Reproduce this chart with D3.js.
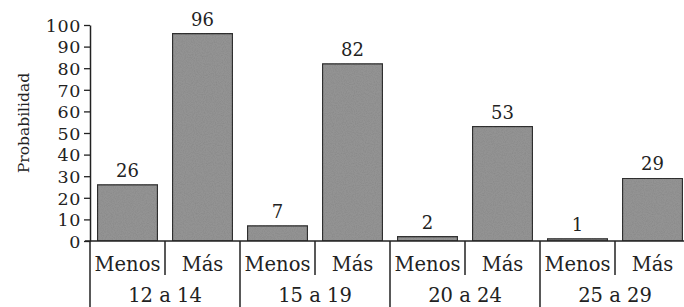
<!DOCTYPE html>
<html>
<head>
<meta charset="utf-8">
<script src="https://cdn.jsdelivr.net/npm/d3@7"></script>
<style>
  body { margin: 0; background: #fff; }
  svg text { font-family: "DejaVu Serif", serif; fill: #222; }
</style>
</head>
<body>
<svg id="chart" width="684" height="307"></svg>
<script>
groups = ["12 a 14", "15 a 19", "20 a 24", "25 a 29"];
levels = ["Menos", "Más"];
menos = [26, 7, 2, 1];
mas = [96, 82, 53, 29];
yTicks = [0, 10, 20, 30, 40, 50, 60, 70, 80, 90, 100];

// one entry per bar, in drawing order
bars = [];
groups.forEach(function (g, i) {
    bars.push({ key: g + "|Menos", group: g, level: "Menos", value: menos[i] });
    bars.push({ key: g + "|Más", group: g, level: "Más", value: mas[i] });
});

LEFT = 90
RIGHT = 690
BASE = 241
TOP = 25

svg = d3.select("#chart");

// grainy print look for the bars
var grain = svg.append("defs").append("filter").attr("id", "grain")
    .attr("x", 0).attr("y", 0).attr("width", 1).attr("height", 1);
grain.append("feTurbulence").attr("type", "fractalNoise").attr("baseFrequency", 0.9)
    .attr("numOctaves", 2).attr("seed", 3).attr("result", "noise");
grain.append("feColorMatrix").attr("in", "noise").attr("type", "matrix")
    .attr("values", "0 0 0 0 0  0 0 0 0 0  0 0 0 0 0  0 0 0 0.25 -0.1").attr("result", "dots");
grain.append("feComposite").attr("in", "dots").attr("in2", "SourceGraphic").attr("operator", "in").attr("result", "dots2");
grain.append("feMerge").selectAll("feMergeNode").data(["SourceGraphic", "dots2"])
    .enter().append("feMergeNode").attr("in", d => d);

var x = d3.scaleBand().domain(bars.map(d => d.key)).range([LEFT, RIGHT])
    .paddingInner(0.2).paddingOuter(0.1);
var xg = d3.scaleBand().domain(groups).range([LEFT, RIGHT]);
var y = d3.scaleLinear().domain([0, 100]).range([BASE, TOP]);

// bars
svg.append("g").selectAll("rect")
    .data(bars)
    .enter().append("rect")
    .attr("x", d => x(d.key))
    .attr("y", d => y(d.value))
    .attr("width", x.bandwidth())
    .attr("height", d => BASE - y(d.value))
    .attr("fill", "#939393")
    .attr("filter", "url(#grain)")
    .attr("stroke", "#333")
    .attr("stroke-width", 1.3);

// value labels
svg.append("g").selectAll("text")
    .data(bars)
    .enter().append("text")
    .attr("x", d => x(d.key) + x.bandwidth() / 2)
    .attr("y", d => y(d.value) - 8)
    .attr("text-anchor", "middle")
    .style("font-size", "18px")
    .text(d => d.value);

// y axis
var yAxis = svg.append("g")
    .attr("transform", "translate(" + LEFT + ",0)")
    .call(d3.axisLeft(y).tickValues(yTicks).tickSize(6).tickPadding(3).tickSizeOuter(0));
yAxis.select(".domain").attr("stroke", "#222").attr("stroke-width", 1.5);
yAxis.selectAll(".tick line").attr("stroke", "#222").attr("stroke-width", 1.3);
yAxis.selectAll(".tick text").style("font-size", "17.5px").style("font-family", "DejaVu Serif, serif")
    .style("letter-spacing", "0.6px").attr("fill", "#222").attr("dy", "0.36em");

svg.append("text")
    .attr("transform", "translate(29,123) rotate(-90)")
    .attr("text-anchor", "middle")
    .style("font-size", "15.5px")
    .text("Probabilidad");

// baseline
svg.append("line")
    .attr("x1", LEFT - 5).attr("x2", 684)
    .attr("y1", BASE).attr("y2", BASE)
    .attr("stroke", "#222").attr("stroke-width", 1.5);

// separators between Menos / Más (short) and between groups (long)
svg.append("g").selectAll("line")
    .data(groups)
    .enter().append("line")
    .attr("x1", d => xg(d) + xg.bandwidth() / 2)
    .attr("x2", d => xg(d) + xg.bandwidth() / 2)
    .attr("y1", BASE).attr("y2", 275)
    .attr("stroke", "#222").attr("stroke-width", 1.5);

svg.append("g").selectAll("line")
    .data(groups)
    .enter().append("line")
    .attr("x1", d => xg(d))
    .attr("x2", d => xg(d))
    .attr("y1", BASE).attr("y2", 307)
    .attr("stroke", "#222").attr("stroke-width", 1.5);

// level labels
svg.append("g").selectAll("text")
    .data(bars)
    .enter().append("text")
    .attr("x", d => x(d.key) + x.bandwidth() / 2)
    .attr("y", 271)
    .attr("text-anchor", "middle")
    .style("font-size", "19.5px")
    .text(d => d.level);

// group labels
svg.append("g").selectAll("text")
    .data(groups)
    .enter().append("text")
    .attr("x", d => xg(d) + xg.bandwidth() / 2)
    .attr("y", 302)
    .attr("text-anchor", "middle")
    .style("font-size", "19.5px")
    .text(d => d);
</script>
</body>
</html>
